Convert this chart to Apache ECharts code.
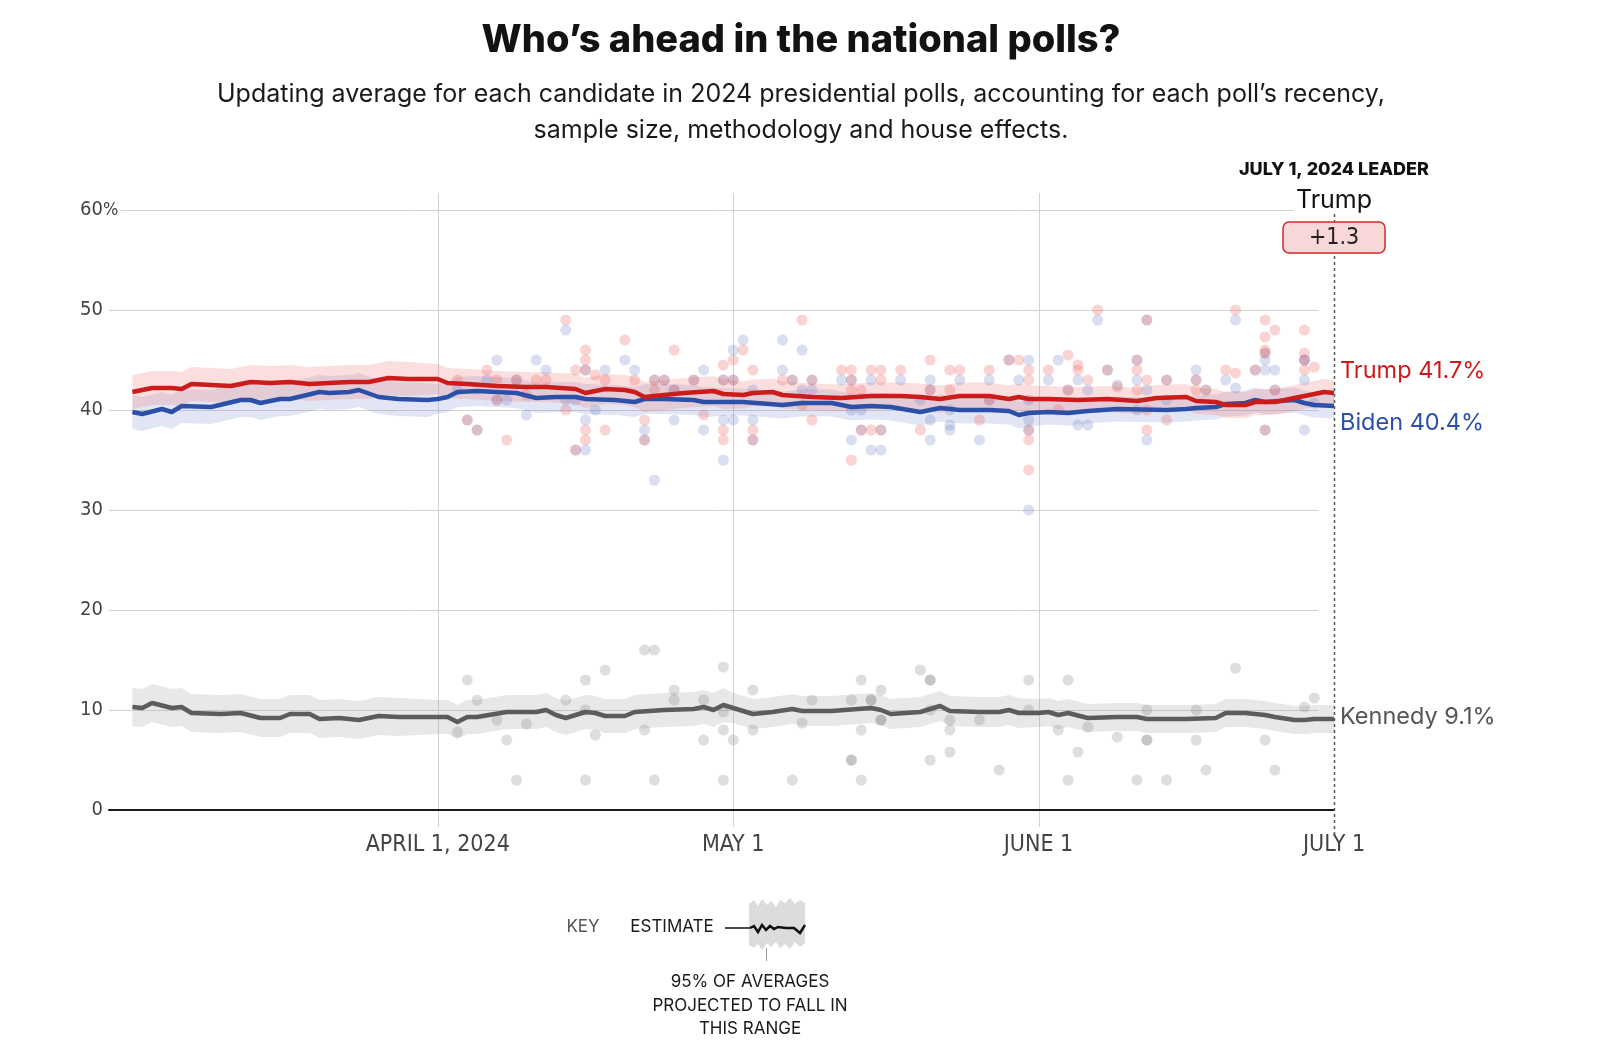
<!DOCTYPE html>
<html>
<head>
<meta charset="utf-8">
<script src="https://cdn.jsdelivr.net/npm/echarts@6/dist/echarts.min.js"></script>
<style>
  html, body { margin: 0; padding: 0; background: #fff; }
  #chart { width: 1600px; height: 1056px; }
</style>
</head>
<body>
<div id="chart"></div>
<script>
// ---------------- DATA ----------------
const titleText = 'Who\u2019s ahead in the national polls?';
const subtitleLines = [
  'Updating average for each candidate in 2024 presidential polls, accounting for each poll\u2019s recency,',
  'sample size, methodology and house effects.'
];
const xTickDates = ['2024-04-01', '2024-05-01', '2024-06-01', '2024-07-01'];
const xTickLabels = ['APRIL 1, 2024', 'MAY 1', 'JUNE 1', 'JULY 1'];
const yTicks = [0, 10, 20, 30, 40, 50, 60];

const trumpAvg = [
  ['2024-03-01',41.8],['2024-03-03',42.2],['2024-03-05',42.2],['2024-03-06',42.1],['2024-03-07',42.6],
  ['2024-03-09',42.5],['2024-03-11',42.4],['2024-03-13',42.8],['2024-03-15',42.7],['2024-03-17',42.8],
  ['2024-03-19',42.6],['2024-03-21',42.7],['2024-03-23',42.8],['2024-03-25',42.8],['2024-03-27',43.2],
  ['2024-03-29',43.1],['2024-04-01',43.1],['2024-04-02',42.7],['2024-04-04',42.6],['2024-04-07',42.4],
  ['2024-04-10',42.3],['2024-04-12',42.3],['2024-04-15',42.1],['2024-04-16',41.7],['2024-04-18',42.1],
  ['2024-04-20',42.0],['2024-04-21',41.8],['2024-04-22',41.3],['2024-04-24',41.5],['2024-04-26',41.7],
  ['2024-04-29',41.9],['2024-04-30',41.6],['2024-05-02',41.5],['2024-05-03',41.7],['2024-05-05',41.8],
  ['2024-05-06',41.5],['2024-05-09',41.3],['2024-05-12',41.2],['2024-05-15',41.4],['2024-05-18',41.4],
  ['2024-05-20',41.3],['2024-05-22',41.1],['2024-05-24',41.4],['2024-05-27',41.4],['2024-05-29',41.1],
  ['2024-05-30',41.3],['2024-05-31',41.1],['2024-06-02',41.1],['2024-06-05',41.0],['2024-06-08',41.1],
  ['2024-06-11',40.9],['2024-06-13',41.2],['2024-06-16',41.3],['2024-06-17',40.9],['2024-06-19',40.8],
  ['2024-06-20',40.5],['2024-06-22',40.5],['2024-06-23',40.8],['2024-06-25',40.8],['2024-06-27',41.2],
  ['2024-06-29',41.6],['2024-06-30',41.8],['2024-07-01',41.7]
];
const bidenAvg = [
  ['2024-03-01',39.8],['2024-03-02',39.6],['2024-03-04',40.1],['2024-03-05',39.8],['2024-03-06',40.4],
  ['2024-03-09',40.3],['2024-03-12',41.0],['2024-03-13',41.0],['2024-03-14',40.7],['2024-03-16',41.1],
  ['2024-03-17',41.1],['2024-03-20',41.8],['2024-03-21',41.7],['2024-03-23',41.8],['2024-03-24',42.0],
  ['2024-03-26',41.3],['2024-03-28',41.1],['2024-03-31',41.0],['2024-04-01',41.1],['2024-04-02',41.3],
  ['2024-04-03',41.8],['2024-04-05',41.9],['2024-04-09',41.7],['2024-04-11',41.2],['2024-04-13',41.3],
  ['2024-04-15',41.3],['2024-04-16',41.1],['2024-04-19',41.0],['2024-04-21',40.8],['2024-04-22',41.1],
  ['2024-04-24',41.1],['2024-04-27',41.0],['2024-04-28',40.8],['2024-05-01',40.8],['2024-05-02',40.8],
  ['2024-05-06',40.5],['2024-05-08',40.7],['2024-05-11',40.7],['2024-05-13',40.3],['2024-05-15',40.4],
  ['2024-05-17',40.3],['2024-05-20',39.8],['2024-05-22',40.2],['2024-05-24',40.0],['2024-05-27',40.0],
  ['2024-05-29',39.9],['2024-05-30',39.5],['2024-05-31',39.7],['2024-06-02',39.8],['2024-06-04',39.7],
  ['2024-06-06',39.9],['2024-06-09',40.1],['2024-06-14',40.0],['2024-06-16',40.1],['2024-06-17',40.2],
  ['2024-06-19',40.3],['2024-06-20',40.6],['2024-06-22',40.7],['2024-06-23',41.0],['2024-06-24',40.8],
  ['2024-06-27',41.0],['2024-06-28',40.7],['2024-06-29',40.5],['2024-07-01',40.4]
];
const kennedyAvg = [
  ['2024-03-01',10.3],['2024-03-02',10.2],['2024-03-03',10.7],['2024-03-05',10.2],['2024-03-06',10.3],
  ['2024-03-07',9.7],['2024-03-10',9.6],['2024-03-12',9.7],['2024-03-14',9.2],['2024-03-16',9.2],
  ['2024-03-17',9.6],['2024-03-19',9.6],['2024-03-20',9.1],['2024-03-22',9.2],['2024-03-24',9.0],
  ['2024-03-26',9.4],['2024-03-28',9.3],['2024-04-01',9.3],['2024-04-02',9.3],['2024-04-03',8.8],
  ['2024-04-04',9.3],['2024-04-05',9.3],['2024-04-08',9.8],['2024-04-11',9.8],['2024-04-12',10.0],
  ['2024-04-13',9.5],['2024-04-14',9.2],['2024-04-16',9.8],['2024-04-17',9.7],['2024-04-18',9.4],
  ['2024-04-20',9.4],['2024-04-21',9.8],['2024-04-24',10.0],['2024-04-27',10.1],['2024-04-28',10.3],
  ['2024-04-29',10.0],['2024-04-30',10.5],['2024-05-01',10.2],['2024-05-03',9.6],['2024-05-05',9.8],
  ['2024-05-07',10.1],['2024-05-08',9.9],['2024-05-11',9.9],['2024-05-15',10.2],['2024-05-16',10.0],
  ['2024-05-17',9.6],['2024-05-20',9.8],['2024-05-21',10.1],['2024-05-22',10.4],['2024-05-23',9.9],
  ['2024-05-26',9.8],['2024-05-28',9.8],['2024-05-29',10.0],['2024-05-30',9.7],['2024-06-01',9.7],
  ['2024-06-02',9.8],['2024-06-03',9.5],['2024-06-04',9.7],['2024-06-06',9.2],['2024-06-09',9.3],
  ['2024-06-11',9.3],['2024-06-12',9.1],['2024-06-14',9.1],['2024-06-16',9.1],['2024-06-19',9.2],
  ['2024-06-20',9.7],['2024-06-22',9.7],['2024-06-24',9.5],['2024-06-25',9.3],['2024-06-27',9.0],
  ['2024-06-28',9.0],['2024-06-29',9.1],['2024-07-01',9.1]
];
// half-width of the 95% band, by month (Mar, Apr, May, Jun/Jul)
const trumpBandHalf = [1.7, 1.5, 1.35, 1.3];
const bidenBandHalf = [1.7, 1.5, 1.35, 1.25];
const kennedyBandHalf = [1.9, 1.7, 1.5, 1.4];

const trumpPolls = [
  ['2024-04-03',43],['2024-04-04',39],['2024-04-05',38],['2024-04-06',44],['2024-04-07',43],['2024-04-07',41],
  ['2024-04-08',37],['2024-04-09',43],['2024-04-10',41.5],['2024-04-11',43],['2024-04-12',43],['2024-04-14',49],
  ['2024-04-14',40],['2024-04-15',44],['2024-04-15',36],['2024-04-16',46],['2024-04-16',45],['2024-04-16',44],
  ['2024-04-16',38],['2024-04-16',37],['2024-04-17',43.5],['2024-04-18',43],['2024-04-18',38],['2024-04-20',47],
  ['2024-04-21',43],['2024-04-22',39],['2024-04-22',37],['2024-04-23',43],['2024-04-23',42],['2024-04-24',43],
  ['2024-04-25',46],['2024-04-25',42],['2024-04-27',43],['2024-04-28',39.5],['2024-04-30',44.5],['2024-04-30',43],
  ['2024-04-30',38],['2024-04-30',37],['2024-05-01',45],['2024-05-01',43],['2024-05-02',46],['2024-05-03',44],
  ['2024-05-03',38],['2024-05-03',37],['2024-05-06',43],['2024-05-07',43],['2024-05-08',49],['2024-05-08',40.5],
  ['2024-05-09',43],['2024-05-09',39],['2024-05-12',44],['2024-05-13',44],['2024-05-13',43],['2024-05-13',42],
  ['2024-05-13',35],['2024-05-14',42],['2024-05-14',38],['2024-05-15',44],['2024-05-15',38],['2024-05-16',44],
  ['2024-05-16',43],['2024-05-16',38],['2024-05-18',44],['2024-05-20',38],['2024-05-21',45],['2024-05-21',42],
  ['2024-05-23',44],['2024-05-23',42],['2024-05-24',44],['2024-05-26',39],['2024-05-27',44],['2024-05-27',41],
  ['2024-05-29',45],['2024-05-30',45],['2024-05-31',44],['2024-05-31',43],['2024-05-31',38],['2024-05-31',37],
  ['2024-05-31',34],['2024-06-02',44],['2024-06-03',40],['2024-06-04',45.5],['2024-06-04',42],['2024-06-05',44.5],
  ['2024-06-05',44],['2024-06-06',43],['2024-06-07',50],['2024-06-08',44],['2024-06-09',42.3],['2024-06-11',45],
  ['2024-06-11',44],['2024-06-11',42],['2024-06-12',49],['2024-06-12',43],['2024-06-12',40],['2024-06-12',38],
  ['2024-06-14',43],['2024-06-14',39],['2024-06-17',43],['2024-06-17',42],['2024-06-18',42],['2024-06-20',44],
  ['2024-06-21',50],['2024-06-21',43.7],['2024-06-23',44],['2024-06-24',49],['2024-06-24',47.3],['2024-06-24',46],
  ['2024-06-24',45.7],['2024-06-24',38],['2024-06-25',48],['2024-06-25',42],['2024-06-28',48],['2024-06-28',45.7],
  ['2024-06-28',45],['2024-06-28',44],['2024-06-29',44.3]
];
const bidenPolls = [
  ['2024-04-03',42],['2024-04-04',39],['2024-04-05',38],['2024-04-06',43],['2024-04-07',45],['2024-04-07',41],
  ['2024-04-08',41],['2024-04-09',43],['2024-04-10',39.5],['2024-04-11',45],['2024-04-12',44],['2024-04-14',48],
  ['2024-04-14',41],['2024-04-15',41],['2024-04-15',36],['2024-04-16',44],['2024-04-16',39],['2024-04-16',36],
  ['2024-04-17',40],['2024-04-18',44],['2024-04-20',45],['2024-04-21',44],['2024-04-22',38],['2024-04-22',37],
  ['2024-04-23',43],['2024-04-23',33],['2024-04-24',43],['2024-04-25',42],['2024-04-25',39],['2024-04-27',43],
  ['2024-04-28',44],['2024-04-28',38],['2024-04-30',43],['2024-04-30',39],['2024-04-30',35],['2024-05-01',46],
  ['2024-05-01',43],['2024-05-01',39],['2024-05-02',47],['2024-05-03',42],['2024-05-03',39],['2024-05-03',37],
  ['2024-05-06',47],['2024-05-06',44],['2024-05-07',43],['2024-05-08',46],['2024-05-08',42],['2024-05-09',43],
  ['2024-05-09',42],['2024-05-12',43],['2024-05-13',43],['2024-05-13',40],['2024-05-13',37],['2024-05-14',40],
  ['2024-05-14',38],['2024-05-15',43],['2024-05-15',36],['2024-05-16',38],['2024-05-16',36],['2024-05-18',43],
  ['2024-05-20',41],['2024-05-21',43],['2024-05-21',42],['2024-05-21',39],['2024-05-21',37],['2024-05-23',40],
  ['2024-05-23',38.5],['2024-05-23',38],['2024-05-24',43],['2024-05-26',37],['2024-05-27',43],['2024-05-27',41],
  ['2024-05-29',45],['2024-05-30',43],['2024-05-31',45],['2024-05-31',41],['2024-05-31',39],['2024-05-31',38],
  ['2024-05-31',30],['2024-06-02',43],['2024-06-03',45],['2024-06-04',42],['2024-06-05',43],['2024-06-05',38.5],
  ['2024-06-06',42],['2024-06-06',38.5],['2024-06-07',49],['2024-06-08',44],['2024-06-09',42.5],['2024-06-11',45],
  ['2024-06-11',43],['2024-06-11',40],['2024-06-12',49],['2024-06-12',42],['2024-06-12',37],['2024-06-14',43],
  ['2024-06-14',41],['2024-06-17',44],['2024-06-17',43],['2024-06-18',42],['2024-06-20',43],['2024-06-21',49],
  ['2024-06-21',42.2],['2024-06-23',44],['2024-06-24',45.7],['2024-06-24',45],['2024-06-24',44],['2024-06-24',38],
  ['2024-06-25',44],['2024-06-25',42],['2024-06-28',45],['2024-06-28',45],['2024-06-28',43],['2024-06-28',38],
  ['2024-06-29',40.7]
];
const kennedyPolls = [
  ['2024-04-03',7.8],['2024-04-04',13],['2024-04-05',11],['2024-04-07',9],['2024-04-08',7],['2024-04-09',3],
  ['2024-04-10',8.6],['2024-04-14',11],['2024-04-16',13],['2024-04-16',10],['2024-04-16',3],['2024-04-17',7.5],
  ['2024-04-18',14],['2024-04-22',16],['2024-04-22',8],['2024-04-23',16],['2024-04-23',3],['2024-04-25',12],
  ['2024-04-25',11],['2024-04-28',11],['2024-04-28',7],['2024-04-30',14.3],['2024-04-30',9.8],['2024-04-30',8],
  ['2024-04-30',3],['2024-05-01',7],['2024-05-03',12],['2024-05-03',8],['2024-05-07',3],['2024-05-08',8.7],
  ['2024-05-09',11],['2024-05-13',11],['2024-05-13',5],['2024-05-13',5],['2024-05-14',13],['2024-05-14',8],
  ['2024-05-14',3],['2024-05-15',11],['2024-05-15',11],['2024-05-16',12],['2024-05-16',9],['2024-05-16',9],
  ['2024-05-20',14],['2024-05-21',13],['2024-05-21',13],['2024-05-21',10],['2024-05-21',5],['2024-05-23',9],
  ['2024-05-23',8],['2024-05-23',5.8],['2024-05-26',9],['2024-05-28',4],['2024-05-31',13],['2024-05-31',10],
  ['2024-06-03',8],['2024-06-04',13],['2024-06-04',3],['2024-06-05',5.8],['2024-06-06',8.3],['2024-06-09',7.3],
  ['2024-06-11',3],['2024-06-12',10],['2024-06-12',7],['2024-06-12',7],['2024-06-14',3],['2024-06-17',10],
  ['2024-06-17',7],['2024-06-18',4],['2024-06-21',14.2],['2024-06-24',7],['2024-06-25',4],['2024-06-28',10.3],
  ['2024-06-29',11.2]
];
const leaderDateLabel = 'JULY 1, 2024 LEADER';
const leaderName = 'Trump';

// ---------------- HELPERS ----------------
function t(s) { const [y, m, d] = s.split('-').map(Number); return new Date(y, m - 1, d).getTime(); }
function pts(arr) { return arr.map(p => [t(p[0]), p[1]]); }
function monthIdx(s) { const m = Number(s.split('-')[1]); return Math.min(Math.max(m - 3, 0), 3); }

const xMin = new Date(2024, 1, 27, 15).getTime();
const xMax = t('2024-07-01');
const gridEnd = new Date(2024, 5, 29, 10).getTime();
const xTickTimes = xTickDates.map(t);

const RED = '#cc1b1b', BLUE = '#2c50a8', GRAY = '#5c5c5c';
const AXIS_FONT = "'DejaVu Sans Condensed', 'Liberation Sans Narrow', 'DejaVu Sans', sans-serif";
const TEXT_FONT = "Inter, 'Noto Sans', sans-serif";

// 95% band as one polygon, positioned through the axes' scales
function bandSeries(name, avg, half, color) {
  const upper = avg.map(p => [t(p[0]), p[1] + half[monthIdx(p[0])]]);
  const lower = avg.map(p => [t(p[0]), p[1] - half[monthIdx(p[0])]]);
  return {
    name: name + 'Band', type: 'custom', data: pts(avg), silent: true, z: 1, animation: false,
    encode: { x: 0, y: 1 },
    renderItem: (params, api) => {
      if (params.dataIndex !== 0) return null;
      const poly = upper.map(p => api.coord(p)).concat(lower.slice().reverse().map(p => api.coord(p)));
      return { type: 'polygon', shape: { points: poly }, style: { fill: color } };
    }
  };
}
function dotSeries(name, polls, color) {
  return { name: name + 'Polls', type: 'scatter', data: pts(polls), symbolSize: 11,
    itemStyle: { color: color }, z: 2, animation: false, silent: true };
}
function avgSeries(name, avg, color, offY) {
  return { name: name, type: 'line', data: pts(avg), symbol: 'none', z: 4, animation: false,
    lineStyle: { color: color, width: 4.5, join: 'round' },
    endLabel: { show: true, distance: 6, offset: [0, offY], color: color === GRAY ? '#555' : color,
      fontFamily: TEXT_FONT, fontSize: 23.5,
      formatter: p => name + ' ' + p.value[1].toFixed(1) + '%' } };
}

const chart = echarts.init(document.getElementById('chart'), null, { renderer: 'canvas' });

chart.setOption({
  animation: false,
  backgroundColor: '#ffffff',
  grid: { left: 109, right: 266, top: 210, bottom: 246, containLabel: false },
  xAxis: {
    type: 'value', min: xMin, max: xMax, scale: true,
    axisLine: { show: true, lineStyle: { color: '#1a1a1a', width: 2 } },
    axisTick: { show: false },
    splitLine: { show: false },
    axisLabel: {
      customValues: xTickTimes,
      margin: 24, color: '#444', fontFamily: AXIS_FONT, fontSize: 23,
      formatter: v => { const i = xTickTimes.indexOf(v); return i >= 0 ? xTickLabels[i] : ''; }
    }
  },
  yAxis: {
    type: 'value', min: 0, max: 60, interval: 10,
    axisLine: { show: false }, axisTick: { show: false }, splitLine: { show: false },
    axisLabel: { margin: 6, color: '#444', fontFamily: AXIS_FONT, fontSize: 20 }
  },
  series: [
    bandSeries('Biden', bidenAvg, bidenBandHalf, 'rgba(110,130,200,0.2)'),
    bandSeries('Trump', trumpAvg, trumpBandHalf, 'rgba(236,110,110,0.22)'),
    bandSeries('Kennedy', kennedyAvg, kennedyBandHalf, 'rgba(150,150,150,0.22)'),
    dotSeries('Biden', bidenPolls, 'rgba(110,130,200,0.33)'),
    dotSeries('Trump', trumpPolls, 'rgba(232,100,95,0.34)'),
    dotSeries('Kennedy', kennedyPolls, 'rgba(130,130,130,0.33)'),
    avgSeries('Kennedy', kennedyAvg, GRAY, -2),
    avgSeries('Biden', bidenAvg, BLUE, 17),
    avgSeries('Trump', trumpAvg, RED, -22)
  ]
});

// ---------------- DECORATION (positions from the library's scales) ----------------
const px = (time, v) => chart.convertToPixel({ gridIndex: 0 }, [time, v]);
const g = [];
yTicks.filter(v => v > 0).forEach(v => {
  const a = px(xMin, v), b = px(gridEnd, v);
  g.push({ type: 'line', z: 0, silent: true,
    shape: { x1: a[0], y1: Math.round(a[1]) + 0.5, x2: b[0], y2: Math.round(b[1]) + 0.5 },
    style: { stroke: '#d2d2d2', lineWidth: 1 } });
});
xTickTimes.slice(0, 3).forEach(tm => {
  const a = px(tm, 61.7), b = px(tm, -1.7);
  g.push({ type: 'line', z: 0, silent: true,
    shape: { x1: Math.round(a[0]) + 0.5, y1: a[1], x2: Math.round(b[0]) + 0.5, y2: b[1] },
    style: { stroke: '#d2d2d2', lineWidth: 1 } });
});
const jA = px(xMax, 59.6), jB = px(xMax, -2.6);
g.push({ type: 'line', z: 5, silent: true,
  shape: { x1: Math.round(jA[0]) + 0.5, y1: jA[1], x2: Math.round(jB[0]) + 0.5, y2: jB[1] },
  style: { stroke: '#555', lineWidth: 1.5, lineDash: [3, 3] } });
const p60 = px(xMin, 60);
g.push({ type: 'text', z: 6, silent: true,
  style: { x: p60[0] - 6, y: p60[1], text: '%', fill: '#444', font: '18px ' + AXIS_FONT,
    textAlign: 'left', textVerticalAlign: 'middle', backgroundColor: '#fff', padding: [0, 2, 0, 0] } });

g.push({ type: 'text', z: 10, style: { x: 801, y: 41, text: titleText, fill: '#121212',
  font: '800 38px ' + TEXT_FONT, textAlign: 'center', textVerticalAlign: 'middle' } });
subtitleLines.forEach((s, i) => g.push({ type: 'text', z: 10, style: { x: 801, y: 94 + i * 36, text: s,
  fill: '#1a1a1a', font: '25px ' + TEXT_FONT, textAlign: 'center', textVerticalAlign: 'middle' } }));

const lx = jA[0];
const lead = (trumpAvg[trumpAvg.length - 1][1] - bidenAvg[bidenAvg.length - 1][1]).toFixed(1);
g.push({ type: 'text', z: 10, style: { x: lx, y: 170, text: leaderDateLabel, fill: '#111',
  font: '800 18px ' + TEXT_FONT, textAlign: 'center', textVerticalAlign: 'middle' } });
g.push({ type: 'text', z: 10, style: { x: lx, y: 200, text: leaderName, fill: '#111',
  font: '25px ' + TEXT_FONT, textAlign: 'center', textVerticalAlign: 'middle',
  backgroundColor: '#fff', padding: [0, 2] } });
g.push({ type: 'rect', z: 10, shape: { x: lx - 51, y: 222, width: 102, height: 31, r: 6 },
  style: { fill: '#f7d7d7', stroke: '#d42a2a', lineWidth: 1.5 } });
g.push({ type: 'text', z: 11, style: { x: lx, y: 238, text: '+' + lead, fill: '#222',
  font: '23px ' + AXIS_FONT, textAlign: 'center', textVerticalAlign: 'middle' } });

g.push({ type: 'text', z: 10, style: { x: 583, y: 927, text: 'KEY', fill: '#555',
  font: '17px ' + TEXT_FONT, textAlign: 'center', textVerticalAlign: 'middle' } });
g.push({ type: 'text', z: 10, style: { x: 672, y: 927, text: 'ESTIMATE', fill: '#1a1a1a',
  font: '17px ' + TEXT_FONT, textAlign: 'center', textVerticalAlign: 'middle' } });
g.push({ type: 'polygon', z: 9, shape: { points: [
  [749,904],[754,900],[758,906],[762,899],[767,905],[771,901],[776,907],[780,900],[785,903],[790,898],[795,904],[800,900],[805,903],
  [805,943],[800,947],[795,942],[790,949],[785,944],[780,948],[776,942],[771,947],[767,943],[762,950],[758,944],[754,948],[749,945]
] }, style: { fill: '#dcdcdc' } });
g.push({ type: 'line', z: 10, shape: { x1: 725, y1: 928, x2: 750, y2: 928 }, style: { stroke: '#111', lineWidth: 1.5 } });
g.push({ type: 'polyline', z: 10, shape: { points: [
  [750,928],[754,926],[758,932],[762,925],[766,930],[770,926],[774,929],[778,927],[786,928],[794,928],[800,933],[805,925]
] }, style: { stroke: '#111', lineWidth: 2.5, fill: null } });
g.push({ type: 'line', z: 10, shape: { x1: 766.5, y1: 948, x2: 766.5, y2: 961 }, style: { stroke: '#999', lineWidth: 1 } });
['95% OF AVERAGES', 'PROJECTED TO FALL IN', 'THIS RANGE'].forEach((s, i) => g.push({ type: 'text', z: 10,
  style: { x: 750, y: 982 + i * 23.5, text: s, fill: '#1a1a1a', font: '17px ' + TEXT_FONT,
    textAlign: 'center', textVerticalAlign: 'middle' } }));

chart.setOption({ graphic: g });
</script>
</body>
</html>
